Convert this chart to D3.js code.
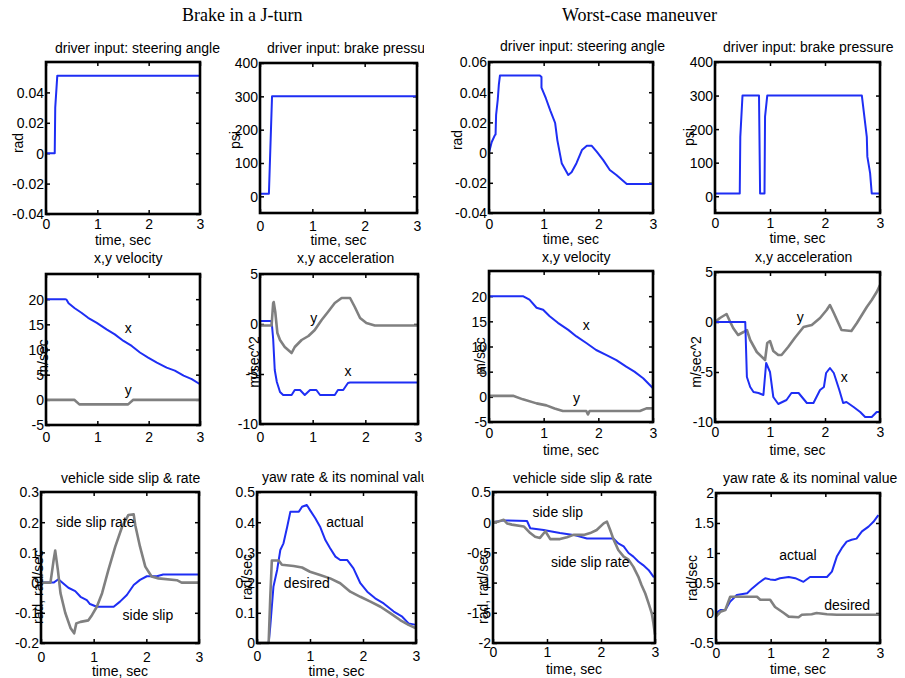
<!DOCTYPE html>
<html>
<head>
<meta charset="utf-8">
<script src="https://cdn.jsdelivr.net/npm/d3@7"></script>
<style>
body { margin: 0; background: #fff; }
svg { display: block; }
</style>
</head>
<body>
<div id="canvas"></div>
<script>
// GLOBAL VARIABLES ============================================================

var WIDTH = 905
var HEIGHT = 678
var FONT = "'Liberation Sans', Arial, sans-serif"
var SERIF = "'Liberation Serif', 'Times New Roman', serif"
var FONT_SIZE = 14
var TICK_SIZE = 4
var BLUE = "#1e2ef4"
var GRAY = "#808080"

// DATA ========================================================================

var X_TICKS = [0, 1, 2, 3]
var GROUP_TITLES = ["Brake in a J-turn", "Worst-case maneuver"]

// Brake in a J-turn
var J_STEER = [[0,0],[0.17,0],[0.18,0.03],[0.22,0.051],[3,0.051]]
var J_BRAKE = [[0,8],[0.17,8],[0.23,300],[3,300]]
var J_VX = [[0,20],[0.37,20],[0.40,19.9],[0.44,19.2],[0.56,18.2],[0.69,17.3],[0.82,16.3],[0.99,15.3],[1.18,14.0],[1.34,13.0],[1.51,11.7],[1.67,10.7],[1.83,9.4],[1.99,8.4],[2.16,7.4],[2.35,6.4],[2.51,5.8],[2.68,4.8],[2.84,4.1],[3,3.1]]
var J_VY = [[0,0],[0.55,0],[0.65,-0.9],[1.6,-0.9],[1.7,0],[3,0]]
var J_AX = [[0,0.3],[0.22,0.3],[0.25,-1.5],[0.28,-4.6],[0.32,-5.8],[0.38,-6.8],[0.44,-7.1],[0.60,-7.1],[0.66,-6.6],[0.76,-6.6],[0.85,-7.1],[0.95,-6.6],[1.07,-6.6],[1.14,-7.1],[1.42,-7.1],[1.48,-6.6],[1.58,-6.6],[1.67,-5.9],[1.71,-5.85],[3,-5.85]]
var J_AY = [[0,-0.15],[0.22,-0.15],[0.25,2.1],[0.26,2.2],[0.29,1.2],[0.33,-0.9],[0.38,-1.6],[0.47,-2.3],[0.60,-2.9],[0.66,-2.3],[0.79,-1.6],[0.92,-1.2],[1.04,-0.6],[1.17,0.4],[1.29,1.2],[1.42,2.1],[1.55,2.6],[1.71,2.6],[1.80,1.7],[1.90,0.6],[2.02,0.1],[2.18,-0.15],[3,-0.15]]
var J_SLIP = [[0,0],[0.24,0],[0.33,0.011],[0.43,-0.004],[0.52,-0.017],[0.65,-0.028],[0.75,-0.047],[0.87,-0.058],[0.93,-0.071],[1.06,-0.08],[1.38,-0.08],[1.50,-0.063],[1.63,-0.041],[1.76,-0.008],[1.88,0.009],[2.01,0.021],[2.20,0.021],[2.32,0.027],[3,0.027]]
var J_SLIP_RATE = [[0,0],[0.18,0],[0.24,0.075],[0.27,0.106],[0.32,0.042],[0.37,-0.035],[0.46,-0.1],[0.56,-0.15],[0.63,-0.168],[0.67,-0.135],[0.75,-0.13],[0.90,-0.125],[0.97,-0.107],[1.06,-0.08],[1.16,-0.035],[1.28,0.042],[1.41,0.119],[1.54,0.185],[1.66,0.224],[1.76,0.226],[1.79,0.19],[1.88,0.119],[1.98,0.053],[2.10,0.02],[2.23,0.014],[2.58,0.008],[2.67,0],[3,0]]
var J_YAW = [[0,0],[0.22,0],[0.25,0.054],[0.28,0.12],[0.31,0.186],[0.38,0.242],[0.44,0.308],[0.50,0.33],[0.57,0.385],[0.63,0.435],[0.79,0.435],[0.85,0.451],[0.94,0.457],[1.0,0.44],[1.10,0.413],[1.19,0.385],[1.29,0.341],[1.38,0.314],[1.48,0.286],[1.57,0.275],[1.70,0.275],[1.82,0.247],[1.95,0.198],[2.08,0.17],[2.23,0.148],[2.39,0.131],[2.58,0.104],[2.74,0.087],[2.86,0.065],[3,0.06]]
var J_YAW_DESIRED = [[0,0],[0.22,0],[0.25,0.15],[0.28,0.273],[0.41,0.273],[0.47,0.259],[0.69,0.255],[0.85,0.25],[1.0,0.236],[1.19,0.225],[1.38,0.214],[1.57,0.198],[1.76,0.17],[1.95,0.153],[2.14,0.137],[2.33,0.12],[2.52,0.098],[2.70,0.076],[2.86,0.06],[3,0.049]]

// Worst-case maneuver
var W_STEER = [[0,0],[0.05,0.007],[0.11,0.0117],[0.12,0.012],[0.13,0.025],[0.16,0.035],[0.18,0.045],[0.20,0.051],[0.93,0.051],[0.96,0.050],[0.96,0.043],[1.04,0.036],[1.12,0.028],[1.21,0.0196],[1.25,0.0083],[1.33,-0.007],[1.45,-0.0148],[1.51,-0.013],[1.60,-0.007],[1.70,0.0017],[1.79,0.0045],[1.88,0.0045],[1.97,0.0006],[2.09,-0.005],[2.21,-0.0115],[2.33,-0.0148],[2.43,-0.018],[2.52,-0.0208],[3,-0.0208]]
var W_BRAKE = [[0,8],[0.45,8],[0.46,177],[0.50,300],[0.80,300],[0.82,8],[0.90,8],[0.91,237],[0.95,300],[2.67,300],[2.76,177],[2.77,118],[2.82,69],[2.85,8],[3,8]]
var W_VX = [[0,20],[0.62,20],[0.74,19.3],[0.87,17.7],[0.99,17.3],[1.11,16.0],[1.26,14.7],[1.45,13.3],[1.60,12.0],[1.78,10.7],[1.96,9.3],[2.15,8.3],[2.33,7.3],[2.51,6.0],[2.66,5.0],[2.82,3.7],[3,1.7]]
var W_VY = [[0,0.2],[0.44,0.2],[0.62,-0.5],[0.87,-1.3],[1.05,-1.7],[1.20,-2.3],[1.35,-2.8],[1.78,-2.8],[1.81,-3.5],[1.84,-2.8],[2.76,-2.8],[2.88,-2.3],[3,-2.3]]
var W_AX = [[0,0],[0.55,0],[0.58,-5.5],[0.64,-6.5],[0.70,-7.0],[0.79,-7.1],[0.88,-7.3],[0.93,-4.1],[1.0,-5.0],[1.06,-7.5],[1.15,-8.2],[1.30,-7.8],[1.39,-7.1],[1.52,-7.1],[1.67,-8.1],[1.79,-8.1],[1.91,-6.8],[1.98,-6.5],[2.02,-5.1],[2.09,-4.6],[2.16,-5.1],[2.26,-6.8],[2.33,-8.1],[2.39,-8.0],[2.52,-8.5],[2.64,-9.0],[2.73,-9.5],[2.85,-9.5],[2.94,-9.0],[3,-9.0]]
var W_AY = [[0,0],[0.09,0.4],[0.21,0.8],[0.26,0.2],[0.33,-0.6],[0.42,-1.3],[0.52,-1.0],[0.58,-0.8],[0.64,-1.8],[0.76,-3.0],[0.91,-3.8],[0.95,-2.1],[1.0,-1.9],[1.06,-2.9],[1.15,-3.3],[1.21,-3.3],[1.33,-2.5],[1.45,-1.6],[1.61,-0.5],[1.76,-0.3],[1.91,0.4],[2.03,1.2],[2.09,1.7],[2.16,0.9],[2.30,-0.8],[2.48,-0.9],[2.58,-0.1],[2.67,0.7],[2.76,1.5],[2.85,2.2],[2.94,3.0],[3,3.7]]
var W_SLIP = [[0,0],[0.2,0.03],[0.63,0.02],[0.69,-0.1],[0.94,-0.13],[1.06,-0.15],[1.24,-0.18],[1.49,-0.21],[1.74,-0.27],[2.23,-0.27],[2.32,-0.35],[2.42,-0.40],[2.51,-0.51],[2.60,-0.57],[2.69,-0.65],[2.78,-0.71],[2.88,-0.79],[2.97,-0.90],[3,-0.91]]
var W_SLIP_RATE = [[0,0],[0.1,0.01],[0.2,0.04],[0.26,-0.02],[0.35,-0.04],[0.57,-0.07],[0.69,-0.18],[0.78,-0.24],[0.87,-0.26],[0.97,-0.15],[1.06,-0.28],[1.24,-0.28],[1.37,-0.25],[1.49,-0.21],[1.68,-0.21],[1.80,-0.18],[1.92,-0.13],[2.05,-0.02],[2.11,0.01],[2.17,-0.13],[2.23,-0.28],[2.32,-0.46],[2.42,-0.57],[2.51,-0.62],[2.60,-0.74],[2.69,-0.90],[2.75,-1.04],[2.82,-1.18],[2.88,-1.34],[2.94,-1.51],[2.97,-1.67],[3,-1.86]]
var W_YAW = [[0,0],[0.08,0.05],[0.17,0.05],[0.26,0.19],[0.38,0.3],[0.57,0.33],[0.66,0.41],[0.78,0.5],[0.90,0.58],[0.99,0.56],[1.08,0.55],[1.17,0.58],[1.33,0.6],[1.45,0.58],[1.60,0.52],[1.72,0.6],[2.03,0.6],[2.12,0.69],[2.21,0.94],[2.30,1.08],[2.39,1.19],[2.48,1.22],[2.57,1.24],[2.67,1.36],[2.79,1.44],[2.88,1.52],[2.97,1.63]]
var W_YAW_DESIRED = [[0,-0.06],[0.08,0.02],[0.17,0.05],[0.26,0.27],[0.75,0.27],[0.81,0.22],[0.99,0.22],[1.08,0.1],[1.24,0],[1.33,-0.06],[1.51,-0.07],[1.57,-0.03],[1.75,-0.02],[1.84,0],[2.03,-0.02],[2.21,-0.03],[3,-0.03]]

// Y tick values
var TICKS_STEER = [-0.04, -0.02, 0, 0.02, 0.04]
var TICKS_STEER_W = [-0.04, -0.02, 0, 0.02, 0.04, 0.06]
var TICKS_BRAKE = [0, 100, 200, 300, 400]
var TICKS_VEL = [-5, 0, 5, 10, 15, 20]
var TICKS_ACC = [-10, -5, 0, 5]
var TICKS_SLIP_J = [-0.2, -0.1, 0, 0.1, 0.2, 0.3]
var TICKS_YAW_J = [0, 0.1, 0.2, 0.3, 0.4, 0.5]
var TICKS_SLIP_W = [-2, -1.5, -1, -0.5, 0, 0.5]
var TICKS_YAW_W = [-0.5, 0, 0.5, 1, 1.5, 2]

// PANEL LAYOUT ================================================================

var PANELS = [
    { box: [46, 200, 62, 214], y: [-0.04, 0.06], ticks: TICKS_STEER, clip: true,
      title: "driver input: steering angle", tx: 55, ty: 53, ylabel: "rad", lx: 18, ly: 143, tickY: 224, xlabelY: 240,
      series: [[J_STEER, BLUE]], notes: [] },
    { box: [260, 417, 63, 213], y: [-50, 400], ticks: TICKS_BRAKE, clip: true,
      title: "driver input: brake pressure", tx: 267, ty: 53, ylabel: "psi", lx: 235, ly: 140, tickY: 226, xlabelY: 240,
      series: [[J_BRAKE, BLUE]], notes: [] },
    { box: [489, 653, 62, 213], y: [-0.04, 0.06], ticks: TICKS_STEER_W, clip: false,
      title: "driver input: steering angle", tx: 500, ty: 51, ylabel: "rad", lx: 457, ly: 140, tickY: 224, xlabelY: 239,
      series: [[W_STEER, BLUE]], notes: [] },
    { box: [715, 880, 62, 213], y: [-50, 400], ticks: TICKS_BRAKE, clip: false,
      title: "driver input: brake pressure", tx: 723, ty: 52, ylabel: "psi", lx: 689, ly: 137, tickY: 223, xlabelY: 238,
      series: [[W_BRAKE, BLUE]], notes: [] },
    { box: [46, 200, 274, 425], y: [-5, 25], ticks: TICKS_VEL, clip: true,
      title: "x,y velocity", tx: 94, ty: 263, ylabel: "m/sec", lx: 43, ly: 358, tickY: 437, xlabelY: null,
      series: [[J_VY, GRAY], [J_VX, BLUE]], notes: [[1.6, 13.2, "x"], [1.6, 1.0, "y"]] },
    { box: [260, 418, 274, 424], y: [-10, 5], ticks: TICKS_ACC, clip: true,
      title: "x,y acceleration", tx: 297, ty: 263, ylabel: "m/sec^2", lx: 254, ly: 362, tickY: 437, xlabelY: null,
      series: [[J_AX, BLUE], [J_AY, GRAY]], notes: [[1.02, 0.1, "y"], [1.67, -5.2, "x"]] },
    { box: [489, 653, 271, 422], y: [-5, 25], ticks: TICKS_VEL, clip: false,
      title: "x,y velocity", tx: 542, ty: 262, ylabel: "m/sec", lx: 480, ly: 356, tickY: 433, xlabelY: 450,
      series: [[W_VY, GRAY], [W_VX, BLUE]], notes: [[1.78, 13.2, "x"], [1.6, -1.2, "y"]] },
    { box: [715, 880, 272, 422], y: [-10, 5], ticks: TICKS_ACC, clip: false,
      title: "x,y acceleration", tx: 755, ty: 262, ylabel: "m/sec^2", lx: 696, ly: 362, tickY: 432, xlabelY: 450,
      series: [[W_AY, GRAY], [W_AX, BLUE]], notes: [[1.55, 0, "y"], [2.35, -6.0, "x"]] },
    { box: [41, 199, 492, 643], y: [-0.2, 0.3], ticks: TICKS_SLIP_J, clip: true,
      title: "vehicle side slip & rate", tx: 61, ty: 483, ylabel: "rad, rad/sec", lx: 38, ly: 587, tickY: 657, xlabelY: 671,
      series: [[J_SLIP, BLUE], [J_SLIP_RATE, GRAY]], notes: [[1.03, 0.184, "side slip rate"], [2.03, -0.124, "side slip"]] },
    { box: [257, 416, 492, 643], y: [0, 0.5], ticks: TICKS_YAW_J, clip: true,
      title: "yaw rate & its nominal value", tx: 262, ty: 482, ylabel: "rad/sec", lx: 247, ly: 577, tickY: 656, xlabelY: 671,
      series: [[J_YAW, BLUE], [J_YAW_DESIRED, GRAY]], notes: [[1.66, 0.384, "actual"], [0.94, 0.182, "desired"]] },
    { box: [493, 655, 492, 643], y: [-2, 0.5], ticks: TICKS_SLIP_W, clip: false,
      title: "vehicle side slip & rate", tx: 513, ty: 483, ylabel: "rad, rad/sec", lx: 483, ly: 587, tickY: 652, xlabelY: 669,
      series: [[W_SLIP, BLUE], [W_SLIP_RATE, GRAY]], notes: [[1.2, 0.086, "side slip"], [1.8, -0.74, "side slip rate"]] },
    { box: [716, 880, 493, 643], y: [-0.5, 2], ticks: TICKS_YAW_W, clip: false,
      title: "yaw rate & its nominal value", tx: 723, ty: 483, ylabel: "rad/sec", lx: 692, ly: 578, tickY: 653, xlabelY: 669,
      series: [[W_YAW, BLUE], [W_YAW_DESIRED, GRAY]], notes: [[1.5, 0.88, "actual"], [2.4, 0.05, "desired"]] }
]

// SVG GENERATOR ===============================================================

function generate() {
    let svg = d3.select("#canvas").append("svg")
        .attr("width", WIDTH)
        .attr("height", HEIGHT)
        .style("background", "#fff")

    // Left half of the figure is cropped a bit before the right half starts.
    svg.append("clipPath").attr("id", "clip-left")
        .append("rect").attr("x", 0).attr("y", 0).attr("width", 424).attr("height", HEIGHT)

    svg.selectAll(".group-title")
        .data(GROUP_TITLES).enter()
        .append("text")
            .attr("class", "group-title")
            .attr("x", (d, i) => i == 0 ? 182 : 562)
            .attr("y", 21)
            .attr("font-family", SERIF)
            .attr("font-size", 18)
            .text(d => d)

    let left = svg.append("g").attr("clip-path", "url(#clip-left)")
    let right = svg.append("g")

    PANELS.forEach(function(p) {
        panel(p.clip ? left : right, p)
    })
}

function panel(root, p) {
    let g = root.append("g")
    let [x0, x1, y0, y1] = p.box

    let x = d3.scaleLinear().domain([0, 3]).range([x0, x1])
    let y = d3.scaleLinear().domain(p.y).range([y1, y0])

    // Ticks on all four sides, pointing inward.
    let bottom = g.append("g").attr("transform", translate(0, y1))
        .call(d3.axisBottom(x).tickValues(X_TICKS).tickSize(-TICK_SIZE).tickFormat(String))
    bottom.selectAll("text").attr("y", p.tickY - y1).attr("dy", "0.35em")

    g.append("g").attr("transform", translate(0, y0))
        .call(d3.axisTop(x).tickValues(X_TICKS).tickSize(-TICK_SIZE).tickFormat(""))

    let leftAxis = g.append("g").attr("transform", translate(x0, 0))
        .call(d3.axisLeft(y).tickValues(p.ticks).tickSize(-TICK_SIZE).tickFormat(String))
    leftAxis.selectAll("text").attr("x", -2).attr("dy", "0.35em")

    g.append("g").attr("transform", translate(x1, 0))
        .call(d3.axisRight(y).tickValues(p.ticks).tickSize(-TICK_SIZE).tickFormat(""))

    g.selectAll(".domain").remove()
    g.selectAll(".tick line").attr("stroke", "#000").attr("stroke-width", 1.5)
    g.selectAll(".tick text")
        .attr("font-family", FONT)
        .attr("font-size", FONT_SIZE)
        .attr("fill", "#000")

    // Series.
    let line = d3.line().x(d => x(d[0])).y(d => y(d[1]))
    g.selectAll(".series")
        .data(p.series).enter()
        .append("path")
            .attr("class", "series")
            .attr("d", d => line(d[0]))
            .attr("fill", "none")
            .attr("stroke", d => d[1])
            .attr("stroke-width", d => d[1] == GRAY ? 2.6 : 2)
            .attr("stroke-linejoin", "round")

    // Box.
    g.append("rect")
        .attr("x", x0)
        .attr("y", y0)
        .attr("width", x1 - x0)
        .attr("height", y1 - y0)
        .attr("fill", "none")
        .attr("stroke", "#000")
        .attr("stroke-width", 2.6)

    // In-plot labels.
    g.selectAll(".note")
        .data(p.notes).enter()
        .append("text")
            .attr("class", "note")
            .attr("x", d => x(d[0]))
            .attr("y", d => y(d[1]))
            .attr("text-anchor", "middle")
            .attr("font-family", FONT)
            .attr("font-size", FONT_SIZE)
            .text(d => d[2])

    // Titles and axis labels.
    g.append("text")
        .attr("x", p.tx)
        .attr("y", p.ty)
        .attr("font-family", FONT)
        .attr("font-size", FONT_SIZE)
        .text(p.title)

    g.append("text")
        .attr("transform", translate(p.lx, p.ly) + " rotate(-90)")
        .attr("text-anchor", "middle")
        .attr("dy", "0.35em")
        .attr("font-family", FONT)
        .attr("font-size", FONT_SIZE)
        .text(p.ylabel)

    if (p.xlabelY !== null) {
        g.append("text")
            .attr("x", (x0 + x1)/2)
            .attr("y", p.xlabelY)
            .attr("dy", "0.35em")
            .attr("text-anchor", "middle")
            .attr("font-family", FONT)
            .attr("font-size", FONT_SIZE)
            .text("time, sec")
    }
}

// -----------------------------------------------------------------------------

function translate(x, y) {
    return "translate(" + x + "," + y + ")"
}

generate()
</script>
</body>
</html>
